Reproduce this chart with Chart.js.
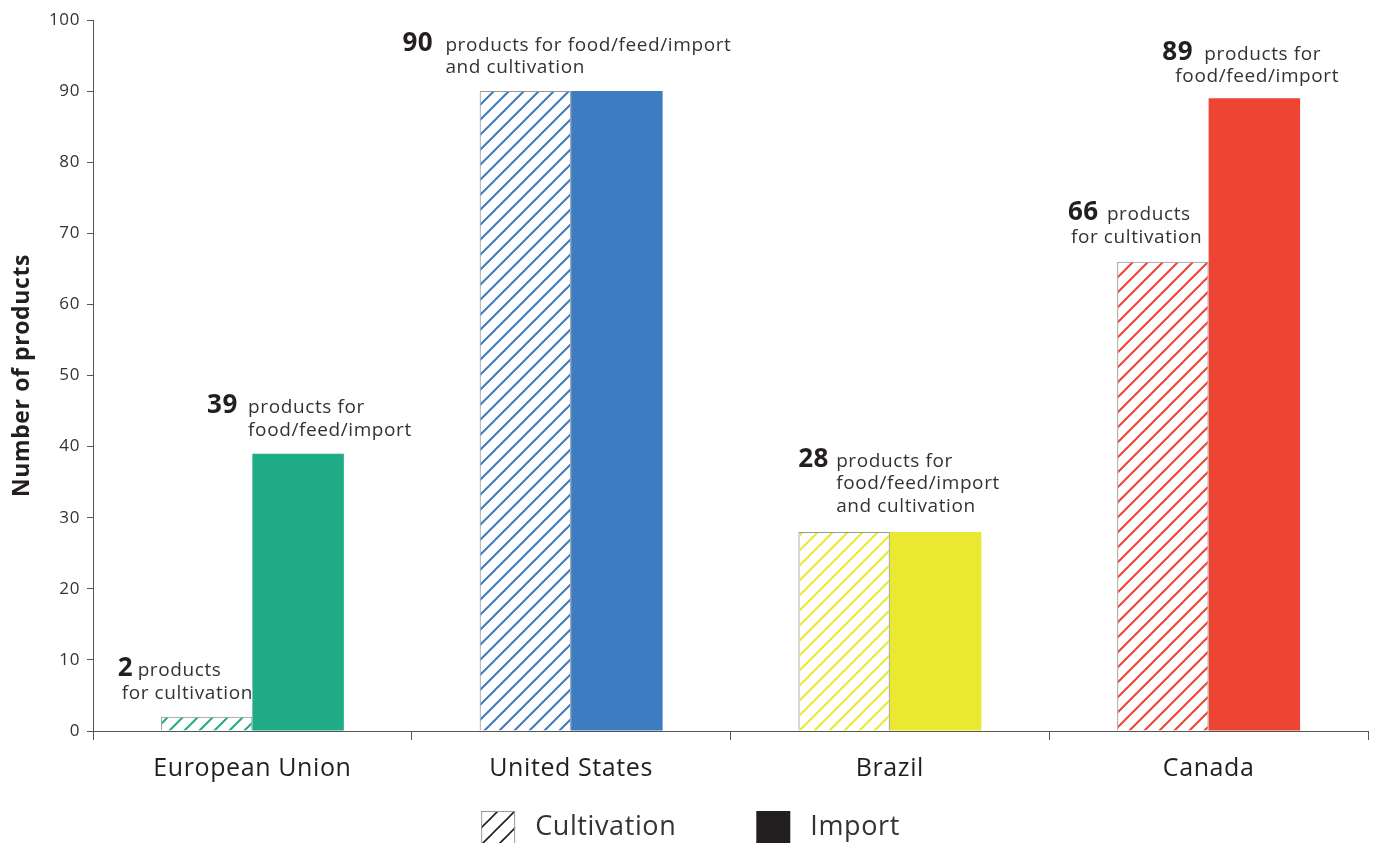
<!DOCTYPE html>
<html>
<head>
<meta charset="utf-8">
<script src="https://cdn.jsdelivr.net/npm/chart.js@4.4.1/dist/chart.umd.min.js"></script>
<style>
  html, body { margin: 0; padding: 0; background: #fff; }
  #wrap { width: 1381px; height: 843px; }
</style>
</head>
<body>
<div id="wrap"><canvas id="gmoChart"></canvas></div>
<script>
// GM products approved per region
const regions = ['European Union', 'United States', 'Brazil', 'Canada'];
const cultivation = [2, 90, 28, 66];
const imports = [39, 90, 28, 89];
const regionColors = ['#20ab87', '#3d7cc1', '#ebe832', '#ee4433'];
const seriesNames = ['Cultivation', 'Import'];

// callout text next to the bars (the bold number is the bar's own value)
const noteTexts = [
  ['products', 'for cultivation'],
  ['products for', 'food/feed/import'],
  ['products for food/feed/import', 'and cultivation'],
  ['products for', 'food/feed/import', 'and cultivation'],
  ['products', 'for cultivation'],
  ['products for', 'food/feed/import']
];

const FONT = '"Open Sans", "DejaVu Sans", sans-serif';
const INK = '#231f20';
const SPACING = '0.6px';

function hatch(color, size, width) {
  const c = document.createElement('canvas');
  c.width = size; c.height = size;
  const g = c.getContext('2d');
  g.strokeStyle = color;
  g.lineWidth = width;
  g.beginPath();
  g.moveTo(0, size); g.lineTo(size, 0);
  g.moveTo(-size / 2, size / 2); g.lineTo(size / 2, -size / 2);
  g.moveTo(size / 2, size * 1.5); g.lineTo(size * 1.5, size / 2);
  g.stroke();
  return g.createPattern(c, 'repeat');
}

// where each callout sits: which bar, and x offsets from the bar centre
const notes = [
  { ds: 0, i: 0, numDx: -89, lineDx: [-69, -85], gap: 18 },
  { ds: 1, i: 0, numDx: -91, lineDx: [-50, -50], gap: 18 },
  { ds: 0, i: 1, numDx: -123, lineDx: [-80, -80], gap: 18 },
  { ds: 0, i: 2, numDx: -46, lineDx: [-8, -8, -8], gap: 20 },
  { ds: 0, i: 3, numDx: -95, lineDx: [-56, -92], gap: 19 },
  { ds: 1, i: 3, numDx: -92, lineDx: [-50, -79], gap: 16 }
];

// wider tracking for every label drawn on the canvas
const trackingPlugin = {
  id: 'tracking',
  beforeInit(chart) { chart.ctx.letterSpacing = SPACING; },
  beforeLayout(chart) { chart.ctx.letterSpacing = SPACING; },
  beforeDraw(chart) { chart.ctx.letterSpacing = SPACING; }
};

const calloutPlugin = {
  id: 'callouts',
  afterDatasetsDraw(chart) {
    const ctx = chart.ctx;
    ctx.save();
    ctx.textBaseline = 'alphabetic';
    ctx.textAlign = 'left';
    notes.forEach((n, k) => {
      const bar = chart.getDatasetMeta(n.ds).data[n.i];
      const value = chart.data.datasets[n.ds].data[n.i];
      const lines = noteTexts[k];
      const lineH = 22.5;
      const lastBase = bar.y - n.gap;
      const firstBase = lastBase - (lines.length - 1) * lineH;
      ctx.fillStyle = INK;
      ctx.font = 'bold 26px ' + FONT;
      ctx.fillText(String(value), bar.x + n.numDx, firstBase);
      ctx.fillStyle = '#333';
      ctx.font = '19px ' + FONT;
      lines.forEach((t, j) => {
        ctx.fillText(t, bar.x + n.lineDx[j], firstBase + j * lineH);
      });
    });
    ctx.restore();
  }
};

const legendPlugin = {
  id: 'bottomLegend',
  afterDraw(chart) {
    const ctx = chart.ctx;
    const box = 34, boxGap = 20, itemGap = 80, top = 811, base = 835;
    ctx.save();
    ctx.font = '27px ' + FONT;
    const w = seriesNames.map(s => ctx.measureText(s).width);
    const total = box * 2 + boxGap * 2 + w[0] + w[1] + itemGap;
    let x = (chart.width - total) / 2;
    seriesNames.forEach((name, k) => {
      if (k === 0) {
        ctx.fillStyle = hatch('#231f20', 17, 1.6);
        ctx.fillRect(x, top, box, box);
        ctx.strokeStyle = '#9a9a9a';
        ctx.lineWidth = 1;
        ctx.strokeRect(x + 0.5, top + 0.5, box - 1, box - 1);
      } else {
        ctx.fillStyle = INK;
        ctx.fillRect(x, top, box, box);
      }
      x += box + boxGap;
      ctx.fillStyle = '#333';
      ctx.textBaseline = 'alphabetic';
      ctx.fillText(name, x, base);
      x += w[k] + itemGap;
    });
    ctx.restore();
  }
};

new Chart(document.getElementById('gmoChart').getContext('2d'), {
  type: 'bar',
  data: {
    labels: regions,
    datasets: [{
      label: seriesNames[0],
      data: cultivation,
      backgroundColor: regionColors.map(c => hatch(c, 15, 2)),
      borderColor: '#9a9a9a',
      borderWidth: 1,
      borderSkipped: 'bottom'
    }, {
      label: seriesNames[1],
      data: imports,
      backgroundColor: regionColors,
      borderWidth: 0
    }]
  },
  options: {
    responsive: true,
    maintainAspectRatio: false,
    animation: false,
    categoryPercentage: 0.574,
    barPercentage: 1.0,
    layout: { padding: { left: 0, top: 20, right: 13, bottom: 55 } },
    plugins: {
      legend: { display: false },
      tooltip: { enabled: false }
    },
    scales: {
      x: {
        grid: { drawOnChartArea: false, tickLength: 9, color: '#555', offset: true },
        border: { color: '#555', width: 1 },
        ticks: { font: { family: FONT, size: 25 }, color: INK, padding: 14 },
        afterFit: s => { s.height = 57; }
      },
      y: {
        min: 0,
        max: 100,
        ticks: { stepSize: 10, font: { family: FONT, size: 17 }, color: '#333', padding: 7 },
        grid: { drawOnChartArea: false, tickLength: 6, color: '#555' },
        border: { color: '#555', width: 1 },
        title: {
          display: true,
          text: 'Number of products',
          font: { family: FONT, size: 23, weight: 'bold' },
          color: INK,
          padding: { top: 9, bottom: 0 }
        },
        afterFit: s => { s.width = 93; }
      }
    }
  },
  plugins: [trackingPlugin, calloutPlugin, legendPlugin]
});
</script>
</body>
</html>
